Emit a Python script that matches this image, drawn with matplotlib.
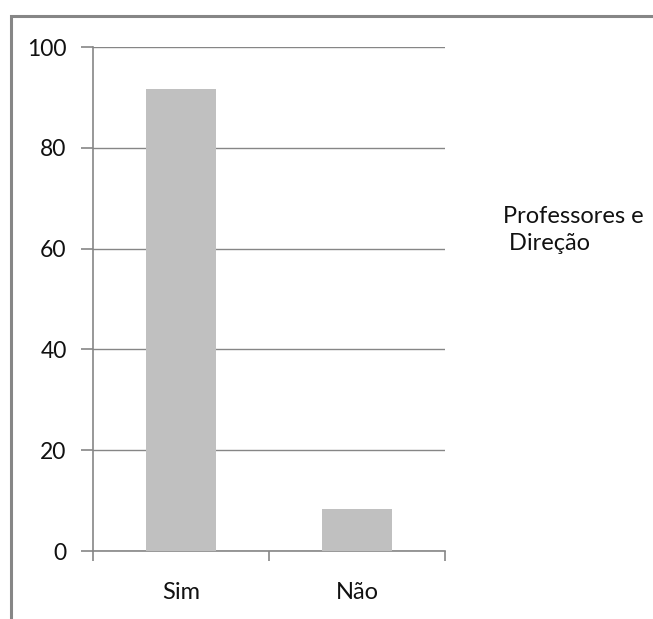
import matplotlib.pyplot as plt
from matplotlib.patches import Rectangle

categorias = ["Sim", "Não"]
valores = [91.7, 8.3]
serie = "Professores e\n Direção"
yticks = [0, 20, 40, 60, 80, 100]

plt.rcParams['font.family'] = ['Lato', 'DejaVu Sans']

fig = plt.figure(figsize=(6.53, 6.19), dpi=100)
ax = fig.add_axes([93 / 653, 1 - 551 / 619, 352 / 653, 504 / 619])

ax.bar(range(len(categorias)), valores, width=0.4, color="#c0c0c0", zorder=3)

ax.set_xlim(-0.5, len(categorias) - 0.5)
ax.set_ylim(0, 100)
ax.set_yticks(yticks)
ax.yaxis.grid(True, color="#868686", linewidth=1.0, zorder=0)

# categorias como rótulos menores, ticks nas fronteiras
ax.set_xticks([-0.5, 0.5, 1.5])
ax.set_xticklabels([])
ax.set_xticks(range(len(categorias)), minor=True)
ax.set_xticklabels(categorias, minor=True)
ax.tick_params(axis="x", which="minor", length=0, pad=22, labelsize=17, labelcolor="#111111")
ax.tick_params(axis="x", which="major", length=7, color="#868686", width=1.2)
ax.tick_params(axis="y", length=9, color="#868686", width=1.2, labelsize=16.5,
               pad=10, labelcolor="#111111")

for lado in ["top", "right"]:
    ax.spines[lado].set_visible(False)
for lado in ["left", "bottom"]:
    ax.spines[lado].set_color("#868686")
    ax.spines[lado].set_linewidth(1.2)

fig.text(503 / 653, 1 - 230 / 619, serie, fontsize=17, va="center", ha="left",
         linespacing=1.3, color="#111111")

# moldura da área do gráfico
fig.patches.append(Rectangle((10.5 / 653, -0.1), 1.2, 1 - 15.5 / 619 + 0.1,
                             transform=fig.transFigure, fill=False,
                             edgecolor="#868686", linewidth=2.2))

fig.savefig("out.png", dpi=100)
